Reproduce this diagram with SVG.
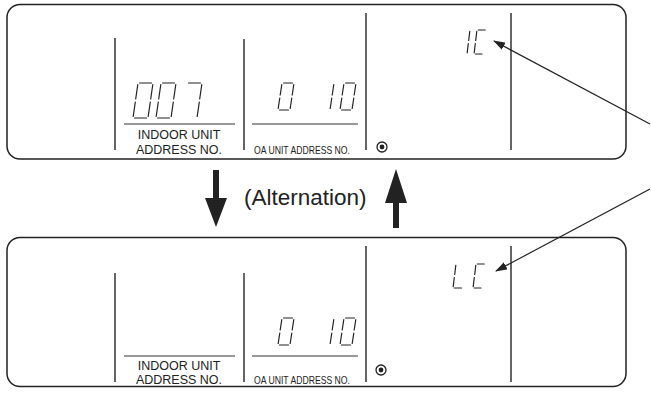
<svg xmlns="http://www.w3.org/2000/svg" width="651" height="394" viewBox="0 0 651 394">
<style>
.panel{fill:none;stroke:#222;stroke-width:1.5}
.vl{stroke:#333;stroke-width:1.5;fill:none}
.hl{stroke:#333;stroke-width:1.2;fill:none}
.seg{stroke:#222;stroke-width:1.2;fill:none;stroke-linecap:round}
.lbl{font-family:"Liberation Sans",Arial,sans-serif;font-size:12.5px;fill:#222}
.lbls{font-family:"Liberation Sans",Arial,sans-serif;font-size:10.5px;fill:#222}
.alt{font-family:"Liberation Sans",Arial,sans-serif;font-size:22.5px;fill:#222}
.ptr{stroke:#222;stroke-width:1.2;fill:none;marker-end:url(#ah)}
.blk{fill:#222}
</style>
<defs>
<marker id="ah" markerWidth="12" markerHeight="8" refX="11" refY="4" orient="auto" markerUnits="userSpaceOnUse">
<path d="M0,0 L12,4 L0,8 Z" fill="#222"/>
</marker>
<path id="A0" class="seg" d="M6.5 -35 H18.5 M1.5 0 H13.5 M4.8 -33.5 L2.7 -19 M2.3 -16 L0.2 -1.5 M19.8 -33.5 L17.7 -19 M17.3 -16 L15.2 -1.5"/>
<path id="A7" class="seg" d="M6.5 -35 H18.5 M19.8 -33.5 L17.7 -19 M17.3 -16 L15.2 -1.5"/>
<path id="B0" class="seg" d="M5.5 -27 H14.5 M1.5 0 H10.5 M3.8 -25.5 L2.2 -15 M1.8 -12 L0.2 -1.5 M15.8 -25.5 L14.2 -15 M13.8 -12 L12.2 -1.5"/>
<path id="B1" class="seg" d="M15.8 -25.5 L14.2 -15 M13.8 -12 L12.2 -1.5"/>
<path id="C1" class="seg" d="M11.8 -22.7 L10.7 -13.5 M10.3 -10.5 L9.2 -1.3"/>
<path id="CC" class="seg" d="M4.3 -24 H11.2 M1.3 0 H8 M2.8 -22.7 L1.7 -13.5 M1.3 -10.5 L0.2 -1.3"/>
<path id="CL" class="seg" d="M1.3 0 H8.5 M2.8 -22.7 L1.7 -13.5 M1.3 -10.5 L0.2 -1.3"/>
<g id="dot"><circle r="5" fill="none" stroke="#222" stroke-width="1.3"/><circle r="2.4" fill="#222"/></g>
</defs>
<rect width="651" height="394" fill="#fff"/>

<g id="panel-top">
<rect class="panel" x="7" y="4.5" width="619" height="154.5" rx="13"/>
<line class="vl" x1="115" y1="38" x2="115" y2="150"/>
<line class="vl" x1="244" y1="39" x2="244" y2="150"/>
<line class="vl" x1="366" y1="13" x2="366" y2="150"/>
<line class="vl" x1="511" y1="13" x2="511" y2="150"/>
<use href="#A0" x="133" y="118"/>
<use href="#A0" x="156" y="118"/>
<use href="#A7" x="182" y="118"/>
<line class="hl" x1="124" y1="124" x2="235" y2="124"/>
<text class="lbl" x="179" y="139" text-anchor="middle">INDOOR UNIT</text>
<text class="lbl" x="179" y="154" text-anchor="middle">ADDRESS NO.</text>
<use href="#B0" x="278" y="110"/>
<use href="#B1" x="318" y="110"/>
<use href="#B0" x="340" y="110"/>
<line class="hl" x1="252" y1="124" x2="358" y2="124"/>
<text class="lbls" x="254" y="154" textLength="96" lengthAdjust="spacingAndGlyphs">OA UNIT ADDRESS NO.</text>
<use href="#dot" x="382" y="147"/>
<use href="#C1" x="458" y="54"/>
<use href="#CC" x="474" y="54"/>
</g>

<g id="alternation">
<path class="blk" d="M213 170 H219 V198 H227 L216 227 L205 198 H213 Z"/>
<text class="alt" x="244" y="205">(Alternation)</text>
<path class="blk" d="M396 169 L407 203 H399 V228 H393 V203 H385 Z"/>
</g>

<g id="panel-bottom">
<rect class="panel" x="7" y="237.5" width="619" height="149" rx="13"/>
<line class="vl" x1="115" y1="273" x2="115" y2="382"/>
<line class="vl" x1="244" y1="273" x2="244" y2="382"/>
<line class="vl" x1="366" y1="246" x2="366" y2="382"/>
<line class="vl" x1="511" y1="246" x2="511" y2="382"/>
<line class="hl" x1="124" y1="356" x2="235" y2="356"/>
<text class="lbl" x="179" y="370" text-anchor="middle">INDOOR UNIT</text>
<text class="lbl" x="179" y="384" text-anchor="middle">ADDRESS NO.</text>
<use href="#B0" x="278" y="345"/>
<use href="#B1" x="318" y="345"/>
<use href="#B0" x="340" y="345"/>
<line class="hl" x1="252" y1="356" x2="358" y2="356"/>
<text class="lbls" x="254" y="384" textLength="96" lengthAdjust="spacingAndGlyphs">OA UNIT ADDRESS NO.</text>
<use href="#dot" x="381" y="370"/>
<use href="#CL" x="453" y="288"/>
<use href="#CC" x="473" y="288"/>
</g>

<g id="connectors">
<line class="ptr" x1="650" y1="124" x2="494" y2="41"/>
<line class="ptr" x1="650" y1="189" x2="496" y2="271"/>
</g>
</svg>
